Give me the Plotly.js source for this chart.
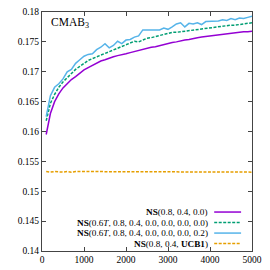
<!DOCTYPE html>
<html><head><meta charset="utf-8">
<script src="https://cdn.plot.ly/plotly-3.0.1.min.js"></script>
<style>html,body{margin:0;padding:0;background:#fff}#c{width:270px;height:270px}</style>
</head><body><div id="c"></div>
<script>
const steps = [100,200,300,400,500,600,700,800,900,1000,1100,1200,1300,1400,1500,1600,1700,1800,1900,2000,2100,2200,2300,2400,2500,2600,2700,2800,2900,3000,3100,3200,3300,3400,3500,3600,3700,3800,3900,4000,4100,4200,4300,4400,4500,4600,4700,4800,4900,5000];
const nsBase = [0.1595,0.1630,0.1650,0.1663,0.1673,0.1680,0.1687,0.1692,0.1698,0.1703,0.1707,0.1711,0.1715,0.1718,0.1720,0.1723,0.1725,0.1727,0.1728,0.1730,0.1732,0.1734,0.1736,0.1737,0.1739,0.1741,0.1742,0.1744,0.1746,0.1747,0.1749,0.1750,0.1752,0.1753,0.1754,0.1756,0.1757,0.1758,0.1759,0.1760,0.1761,0.1762,0.1763,0.1764,0.1765,0.1766,0.1766,0.1767,0.1767,0.1768];
const nsT00 = [0.1618,0.1647,0.1662,0.1674,0.1683,0.1690,0.1697,0.1704,0.1709,0.1714,0.1719,0.1722,0.1725,0.1728,0.1730,0.1733,0.1736,0.1739,0.1742,0.1745,0.1748,0.1751,0.1750,0.1753,0.1756,0.1757,0.1759,0.1760,0.1762,0.1764,0.1766,0.1766,0.1767,0.1768,0.1769,0.1770,0.1771,0.1771,0.1772,0.1774,0.1775,0.1775,0.1776,0.1777,0.1778,0.1778,0.1779,0.1780,0.1780,0.1782];
const nsT02 = [0.1625,0.1660,0.1674,0.1680,0.1688,0.1700,0.1704,0.1714,0.1720,0.1726,0.1729,0.1730,0.1737,0.1741,0.1747,0.1740,0.1744,0.1751,0.1747,0.1753,0.1754,0.1758,0.1760,0.1770,0.1770,0.1770,0.1771,0.1770,0.1773,0.1771,0.1775,0.1780,0.1782,0.1775,0.1781,0.1780,0.1782,0.1779,0.1784,0.1784,0.1785,0.1785,0.1787,0.1786,0.1789,0.1787,0.1790,0.1789,0.1791,0.1793];
const nsUCB = [0.1533,0.1532,0.1533,0.1532,0.1532,0.1533,0.1532,0.1533,0.1533,0.1532,0.1533,0.1532,0.1533,0.1533,0.1532,0.1532,0.1533,0.1532,0.1533,0.1533,0.1532,0.1533,0.1532,0.1533,0.1533,0.1532,0.1533,0.1533,0.1532,0.1533,0.1532,0.1533,0.1533,0.1532,0.1533,0.1532,0.1533,0.1533,0.1532,0.1533,0.1533,0.1532,0.1533,0.1532,0.1533,0.1533,0.1532,0.1533,0.1533,0.1532];
const names = ['<b>NS</b>(0.8, 0.4, 0.0)','<b>NS</b>(0.6<i>T</i>, 0.8, 0.4, 0.0, 0.0, 0.0, 0.0)','<b>NS</b>(0.6<i>T</i>, 0.8, 0.4, 0.0, 0.0, 0.0, 0.2)','<b>NS</b>(0.8, 0.4, <b>UCB1</b>)'];
const colors = ['#9400D3','#009E73','#56B4E9','#E69F00'];
const dashes = ['solid','3px,1.5px','solid','3px,1.5px'];
const series = [nsBase, nsT00, nsT02, nsUCB];
const xTicks = [0,1000,2000,3000,4000,5000];
const yTicks = [0.14,0.145,0.15,0.155,0.16,0.165,0.17,0.175,0.18];

const font = 'Liberation Serif, DejaVu Serif, serif';
const traces = series.map((s,i)=>({x:steps,y:s,type:'scatter',mode:'lines',name:names[i],
  line:{color:colors[i],width:1.5,dash:dashes[i]},showlegend:false}));
const legY = [0.163,0.119,0.075,0.031];
const annotations = names.map((n,i)=>({xref:'paper',yref:'paper',x:0.797,y:legY[i],xanchor:'right',yanchor:'middle',
  text:n,showarrow:false,borderpad:0,font:{family:font,size:9.2,color:'#000'}}));
annotations.push({xref:'paper',yref:'paper',x:0.035,y:0.99,xanchor:'left',yanchor:'top',text:'CMAB<sub>3</sub>',showarrow:false,font:{family:font,size:11.5,color:'#000'}});
const shapes = names.map((n,i)=>({type:'line',xref:'paper',yref:'paper',x0:0.82,x1:0.948,y0:legY[i],y1:legY[i],
  line:{color:colors[i],width:1.5,dash:dashes[i]}}));
const axisCommon = {showgrid:false,zeroline:false,showline:true,mirror:'ticks',linecolor:'#444',linewidth:1,
  ticks:'inside',ticklen:4,tickcolor:'#444',tickfont:{family:font,size:9.5,color:'#000'}};
Plotly.newPlot('c',traces,{
  width:270,height:270,margin:{l:42,r:18,t:12,b:19},paper_bgcolor:'#fff',plot_bgcolor:'#fff',
  xaxis:Object.assign({},axisCommon,{range:[0,5000],tickvals:xTicks,ticktext:xTicks.map(String)}),
  yaxis:Object.assign({},axisCommon,{range:[0.14,0.18],tickvals:yTicks,ticktext:yTicks.map(v=>String(v))}),
  annotations:annotations,shapes:shapes
},{staticPlot:true});
</script></body></html>
